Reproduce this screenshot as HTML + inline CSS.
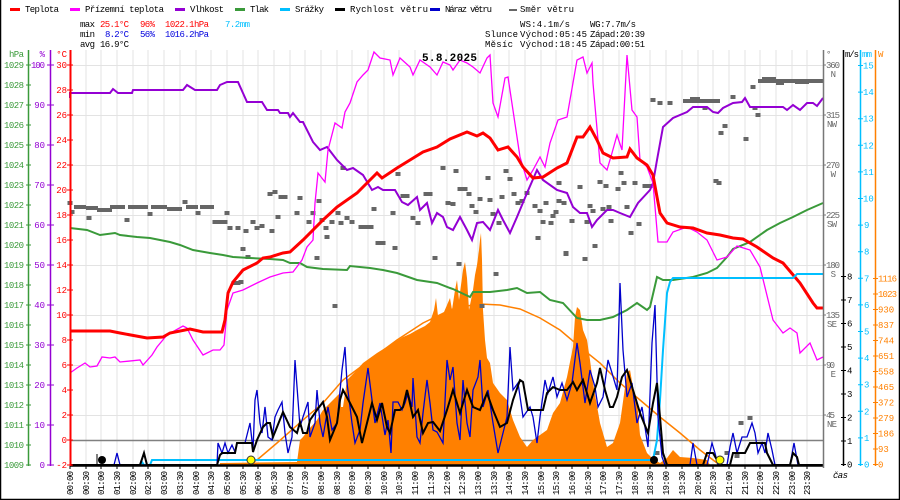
<!DOCTYPE html>
<html><head><meta charset="utf-8"><style>
html,body{margin:0;padding:0;background:#fff;}
svg{display:block;}
text{font-family:"Liberation Mono","DejaVu Sans Mono",monospace;font-size:9px;}
</style></head><body>
<svg width="900" height="500" viewBox="0 0 900 500" xmlns="http://www.w3.org/2000/svg">
<rect x="0" y="0" width="900" height="500" fill="#fff"/>
<!-- border -->
<path d="M0.5 0 V499.5 H899.5 V0" fill="none" stroke="#000" stroke-width="1.5"/>

<!-- grid -->
<path d="M86 50V465M101 50V465M117 50V465M133 50V465M148 50V465M164 50V465M180 50V465M196 50V465M211 50V465M227 50V465M243 50V465M258 50V465M274 50V465M290 50V465M305 50V465M321 50V465M337 50V465M352 50V465M368 50V465M384 50V465M399 50V465M415 50V465M431 50V465M447 50V465M462 50V465M478 50V465M494 50V465M509 50V465M525 50V465M541 50V465M556 50V465M572 50V465M588 50V465M603 50V465M619 50V465M635 50V465M650 50V465M666 50V465M682 50V465M698 50V465M713 50V465M729 50V465M745 50V465M760 50V465M776 50V465M792 50V465M807 50V465" stroke="#e3e3e3" stroke-width="1"/>
<path d="M70 65.5H823M70 115.5H823M70 165.5H823M70 215.5H823M70 265.5H823M70 315.5H823M70 365.5H823M70 415.5H823" stroke="#e3e3e3" stroke-width="1"/>
<path d="M70 440.5H823" stroke="#808080" stroke-width="1.5"/>

<!-- solar fill -->
<polygon fill="#ff8000" points="220,465 220,463 297,462 300,440 303,437 310,428 317,420 323,410 330,403 340,393 341,407 343,407 347,380 355,372 363,363 370,358 377,353 390,345 403,337 410,334 417,330 425,326 430,322 434,310 436,298 438,316 440,315 444,312 447,305 450,298 452,310 455,290 457,280 459,300 461,285 463,270 465,262 467,278 469,310 471,300 473,290 475,275 477,265 479,250 480,240 481,233 482,260 483,310 485,340 487,358 490,363 493,383 500,393 507,400 513,420 520,437 527,447 533,440 540,435 547,430 553,413 560,403 567,377 573,347 575,317 577,307 580,310 583,330 587,340 590,360 593,383 600,423 607,447 613,443 620,423 627,373 630,370 633,387 637,400 640,435 647,453 653,459 660,463 667,458 673,450 680,457 693,458 707,460 710,465"/>
<!-- theoretical solar -->
<polyline fill="none" stroke="#ff8000" stroke-width="1.5" points="250,464 257,460 277,443 303,420 323,403 343,380 370,360 397,340 423,323 450,310 460,307 480,304 500,305 520,309 540,318 560,330 580,347 600,363 620,383 640,400 660,417 680,433 700,450 717,463 720,465"/>

<!-- wind direction squares -->
<g fill="#666">
<rect x="74" y="205" width="12" height="4"/><rect x="86" y="206" width="12" height="4"/><rect x="97" y="208" width="15" height="4"/><rect x="110" y="205" width="15" height="4"/><rect x="128" y="205" width="20" height="4"/><rect x="151" y="205" width="16" height="4"/><rect x="167" y="207" width="15" height="4"/><rect x="186" y="205" width="12" height="4"/><rect x="200" y="205" width="14" height="4"/>
<rect x="758" y="79" width="66" height="4"/><rect x="762" y="77" width="14" height="3"/><rect x="776" y="82" width="8" height="3"/><rect x="795" y="81" width="14" height="3"/>
<rect x="683" y="99" width="37" height="4"/><rect x="690" y="97" width="10" height="3"/>
</g>
<g fill="#666" transform="translate(-2.5,-2)">
<rect x="70" y="203" width="5" height="4"/><rect x="72" y="212" width="5" height="4"/><rect x="89" y="218" width="5" height="4"/><rect x="127" y="220" width="5" height="4"/><rect x="150" y="214" width="5" height="4"/><rect x="185" y="202" width="5" height="4"/><rect x="198" y="213" width="5" height="4"/>
<rect x="227" y="213" width="5" height="4"/><rect x="215" y="222" width="5" height="4"/><rect x="220" y="222" width="5" height="4"/><rect x="225" y="222" width="5" height="4"/><rect x="230" y="228" width="5" height="4"/><rect x="238" y="228" width="5" height="4"/><rect x="246" y="231" width="5" height="4"/><rect x="253" y="222" width="5" height="4"/><rect x="257" y="228" width="5" height="4"/><rect x="262" y="226" width="5" height="4"/><rect x="272" y="231" width="5" height="4"/><rect x="270" y="194" width="5" height="4"/><rect x="275" y="192" width="5" height="4"/><rect x="281" y="197" width="5" height="4"/><rect x="285" y="197" width="5" height="4"/><rect x="278" y="217" width="5" height="4"/><rect x="243" y="249" width="5" height="4"/><rect x="248" y="257" width="5" height="4"/><rect x="234" y="283" width="5" height="4"/><rect x="238" y="283" width="5" height="4"/><rect x="241" y="282" width="5" height="4"/><rect x="300" y="198" width="5" height="4"/><rect x="297" y="213" width="5" height="4"/><rect x="309" y="222" width="5" height="4"/><rect x="313" y="213" width="5" height="4"/><rect x="319" y="201" width="5" height="4"/><rect x="322" y="220" width="5" height="4"/><rect x="326" y="228" width="5" height="4"/><rect x="327" y="237" width="5" height="4"/><rect x="317" y="258" width="5" height="4"/><rect x="335" y="306" width="5" height="4"/><rect x="332" y="222" width="5" height="4"/><rect x="338" y="213" width="5" height="4"/><rect x="341" y="223" width="5" height="4"/><rect x="347" y="218" width="5" height="4"/><rect x="352" y="222" width="5" height="4"/><rect x="343" y="168" width="5" height="4"/><rect x="361" y="227" width="5" height="4"/><rect x="366" y="227" width="5" height="4"/><rect x="371" y="227" width="5" height="4"/><rect x="374" y="209" width="5" height="4"/><rect x="378" y="243" width="5" height="4"/><rect x="383" y="243" width="5" height="4"/><rect x="393" y="213" width="5" height="4"/><rect x="395" y="248" width="5" height="4"/><rect x="398" y="174" width="5" height="4"/><rect x="403" y="196" width="5" height="4"/><rect x="407" y="196" width="5" height="4"/><rect x="413" y="218" width="5" height="4"/><rect x="418" y="223" width="5" height="4"/><rect x="426" y="194" width="5" height="4"/><rect x="430" y="194" width="5" height="4"/><rect x="435" y="258" width="5" height="4"/><rect x="443" y="168" width="5" height="4"/><rect x="448" y="203" width="5" height="4"/>
<rect x="456" y="171" width="5" height="4"/><rect x="460" y="189" width="5" height="4"/><rect x="465" y="189" width="5" height="4"/><rect x="469" y="194" width="5" height="4"/><rect x="453" y="204" width="5" height="4"/><rect x="480" y="199" width="5" height="4"/><rect x="476" y="212" width="5" height="4"/><rect x="472" y="206" width="5" height="4"/><rect x="488" y="178" width="5" height="4"/><rect x="490" y="200" width="5" height="4"/><rect x="493" y="214" width="5" height="4"/><rect x="499" y="223" width="5" height="4"/><rect x="502" y="197" width="5" height="4"/><rect x="506" y="171" width="5" height="4"/><rect x="510" y="179" width="5" height="4"/><rect x="514" y="194" width="5" height="4"/><rect x="518" y="203" width="5" height="4"/><rect x="522" y="201" width="5" height="4"/><rect x="527" y="193" width="5" height="4"/><rect x="535" y="206" width="5" height="4"/><rect x="538" y="238" width="5" height="4"/><rect x="540" y="211" width="5" height="4"/><rect x="543" y="222" width="5" height="4"/><rect x="546" y="203" width="5" height="4"/><rect x="551" y="223" width="5" height="4"/><rect x="553" y="216" width="5" height="4"/><rect x="556" y="212" width="5" height="4"/><rect x="559" y="183" width="5" height="4"/><rect x="559" y="201" width="5" height="4"/><rect x="564" y="203" width="5" height="4"/><rect x="566" y="253" width="5" height="4"/><rect x="572" y="221" width="5" height="4"/><rect x="580" y="187" width="5" height="4"/><rect x="587" y="222" width="5" height="4"/><rect x="590" y="206" width="5" height="4"/><rect x="593" y="211" width="5" height="4"/><rect x="595" y="246" width="5" height="4"/><rect x="600" y="182" width="5" height="4"/><rect x="603" y="209" width="5" height="4"/><rect x="606" y="186" width="5" height="4"/><rect x="609" y="207" width="5" height="4"/><rect x="611" y="221" width="5" height="4"/><rect x="618" y="189" width="5" height="4"/><rect x="621" y="173" width="5" height="4"/><rect x="624" y="183" width="5" height="4"/><rect x="627" y="207" width="5" height="4"/><rect x="631" y="233" width="5" height="4"/><rect x="635" y="183" width="5" height="4"/><rect x="639" y="224" width="5" height="4"/><rect x="645" y="186" width="5" height="4"/><rect x="650" y="186" width="5" height="4"/><rect x="653" y="100" width="5" height="4"/><rect x="660" y="103" width="5" height="4"/><rect x="670" y="103" width="5" height="4"/><rect x="705" y="108" width="5" height="4"/><rect x="716" y="181" width="5" height="4"/><rect x="719" y="183" width="5" height="4"/><rect x="721" y="133" width="5" height="4"/><rect x="725" y="126" width="5" height="4"/><rect x="733" y="97" width="5" height="4"/><rect x="746" y="139" width="5" height="4"/><rect x="753" y="87" width="5" height="4"/><rect x="755" y="108" width="5" height="4"/><rect x="758" y="115" width="5" height="4"/><rect x="459" y="264" width="5" height="4"/><rect x="496" y="274" width="5" height="4"/><rect x="482" y="306" width="5" height="4"/><rect x="566" y="254" width="5" height="4"/><rect x="585" y="259" width="5" height="4"/><rect x="657" y="453" width="5" height="4"/><rect x="727" y="453" width="5" height="4"/><rect x="741" y="423" width="5" height="4"/><rect x="750" y="418" width="5" height="4"/><rect x="737" y="456" width="5" height="4"/>
</g>

<!-- pressure -->
<polyline fill="none" stroke="#3a9a3a" stroke-width="2" points="70,228 87,230 100,235 115,233 120,235 137,237 150,238 170,242 180,245 193,250 210,253 223,255 233,257 250,258 270,259 283,260 290,263 300,263 307,267 323,269 347,270 350,266 370,268 383,270 397,273 417,280 437,283 450,288 453,289 470,297 473,292 490,292 507,290 517,288 527,293 540,292 550,300 563,303 577,318 587,320 600,320 613,317 627,310 637,303 647,310 650,307 657,277 663,280 673,280 693,277 707,273 717,268 727,257 733,249 750,242 767,230 780,223 793,217 807,210 823,203"/>
<!-- humidity -->
<polyline fill="none" stroke="#9400d3" stroke-width="2" points="70,98 70,93 110,93 113,89 118,93 132,93 133,90 183,90 187,85 195,90 217,90 220,85 227,82 238,82 247,102 262,102 267,110 278,110 280,113 288,113 290,117 293,113 300,122 303,122 313,142 320,150 327,147 337,160 347,170 353,168 363,175 372,190 378,187 383,190 395,190 402,202 408,205 417,197 420,210 427,203 432,223 437,213 443,217 447,227 453,230 460,217 467,230 472,240 477,223 483,222 490,230 498,210 503,220 510,233 517,217 527,193 537,170 543,180 557,190 567,193 573,207 580,213 587,213 592,227 597,220 607,210 613,210 620,213 630,217 638,203 650,190 653,183 657,160 663,127 673,118 687,112 693,107 707,107 713,112 718,113 723,108 733,103 742,102 745,98 750,107 783,107 787,110 793,105 800,110 807,103 813,103 817,106 823,98"/>
<!-- feels-like -->
<polyline fill="none" stroke="#ff00ff" stroke-width="1.3" points="70,373 77,368 85,363 90,367 97,366 102,357 110,358 115,357 120,362 140,360 143,365 152,355 157,347 167,335 183,326 187,328 193,340 203,355 213,350 220,350 224,345 227,310 233,293 243,290 257,283 270,277 283,273 293,272 302,260 307,247 313,240 315,203 318,173 325,182 328,150 335,123 342,128 345,112 350,103 357,82 363,75 368,70 374,52 380,58 390,60 393,75 400,58 410,67 413,75 420,60 430,67 437,75 443,62 450,65 453,70 460,60 467,63 473,67 480,73 487,58 490,55 493,103 498,117 505,78 508,77 520,157 527,180 533,170 540,157 545,167 550,143 558,120 567,117 577,60 583,57 587,73 592,63 593,83 600,163 607,170 612,153 617,135 622,150 627,55 632,110 637,117 640,160 647,167 653,183 658,242 667,242 673,232 687,227 697,232 707,240 713,252 717,260 727,257 737,246 750,250 760,267 773,320 783,333 790,328 797,333 800,353 810,343 817,360 823,357"/>
<!-- temperature -->
<polyline fill="none" stroke="#ff0000" stroke-width="3" points="70,331 110,331 120,333 147,338 163,337 170,333 190,329 203,332 222,332 225,320 228,293 233,282 243,270 257,263 263,258 270,257 283,253 290,252 303,240 323,220 337,207 357,193 370,180 377,173 382,178 397,168 410,160 423,152 437,147 450,139 467,132 477,136 483,133 490,138 498,150 508,147 517,157 523,167 533,178 543,177 557,168 567,163 577,137 583,137 590,127 597,140 603,153 613,158 627,157 630,149 637,158 647,165 653,175 657,197 660,213 667,223 680,227 693,228 707,233 720,235 733,238 743,239 757,247 773,258 783,263 800,283 813,303 817,308 823,308"/>
<!-- rain -->
<polyline fill="none" stroke="#00bfff" stroke-width="2" points="140,465 142,462 144,465 150,465 152,460 653,460 657,440 660,400 663,350 667,293 670,282 673,278 793,278 797,274 823,274"/>
<!-- gust -->
<polyline fill="none" stroke="#0000cc" stroke-width="1.3" points="70,465 114,465 117,453 120,465 217,465 218,443 222,453 225,443 228,453 232,445 235,452 237,443 245,443 250,423 253,450 255,400 257,390 260,423 262,433 265,407 268,437 272,440 275,417 278,410 282,402 285,433 288,453 292,437 295,360 298,400 300,427 303,417 308,402 310,437 315,423 317,390 320,423 323,437 328,407 332,430 337,423 342,370 345,347 347,383 352,423 355,443 360,430 363,403 368,368 372,400 375,423 380,403 385,435 388,420 391,453 393,402 398,402 402,410 405,403 408,393 412,407 413,378 417,437 420,443 423,413 427,380 430,403 433,430 437,432 443,443 447,360 450,380 453,367 457,423 460,440 463,380 467,423 470,437 473,390 478,377 480,360 483,407 488,390 493,423 498,453 502,437 507,417 510,347 513,390 518,383 523,417 530,407 533,417 537,443 540,417 545,380 548,393 553,377 557,397 562,383 567,400 572,383 577,343 580,363 585,403 590,370 595,387 598,407 603,397 608,360 612,373 617,390 620,283 623,350 627,397 632,383 637,423 642,407 645,427 648,447 652,343 655,305 658,417 662,457 665,465 690,465 693,443 697,465 707,465 712,443 715,453 718,465 727,465 730,447 733,433 737,453 742,437 747,437 752,423 755,433 758,453 762,443 765,453 768,433 772,450 775,465 790,465 794,443 798,465 823,465"/>
<!-- wind speed -->
<polyline fill="none" stroke="#000" stroke-width="2" points="70,465 140,465 144,453 147,465 217,465 220,455 222,453 235,453 237,443 252,443 253,452 257,440 263,427 267,423 270,423 273,437 277,427 283,412 290,427 297,433 300,422 303,433 307,433 310,420 317,410 323,402 327,417 330,440 337,423 340,400 343,390 350,403 357,417 362,443 367,423 372,403 377,420 382,403 387,427 390,433 395,410 400,410 403,407 407,390 413,417 418,410 423,433 428,423 433,422 440,431 447,410 453,390 460,413 467,390 473,407 480,410 487,393 493,410 500,427 507,423 513,400 520,380 523,382 528,410 537,410 543,410 547,393 553,387 560,390 567,390 573,382 577,390 583,380 590,403 597,383 600,368 605,390 610,407 613,407 617,397 622,377 627,370 633,390 640,413 648,433 653,403 657,383 660,417 663,453 667,465 703,465 707,453 713,453 717,460 720,465 730,465 733,453 745,453 750,443 765,443 767,453 773,465 790,465 793,453 797,457 799,465 823,465"/>
<path d="M70 465.5H823" stroke="#000" stroke-width="2.5"/>

<!-- markers -->
<path d="M97 454V465" stroke="#000" stroke-width="1"/>
<circle cx="102" cy="460" r="4" fill="#000"/>
<circle cx="654" cy="460" r="4" fill="#000"/>
<circle cx="251" cy="460" r="4" fill="#ffff00" stroke="#333" stroke-width="1"/>
<circle cx="720" cy="460" r="4" fill="#ffff00" stroke="#333" stroke-width="1"/>

<!-- bottom ticks -->
<path d="M70 466V469M86 466V469M101 466V469M117 466V469M133 466V469M148 466V469M164 466V469M180 466V469M196 466V469M211 466V469M227 466V469M243 466V469M258 466V469M274 466V469M290 466V469M305 466V469M321 466V469M337 466V469M352 466V469M368 466V469M384 466V469M399 466V469M415 466V469M431 466V469M447 466V469M462 466V469M478 466V469M494 466V469M509 466V469M525 466V469M541 466V469M556 466V469M572 466V469M588 466V469M603 466V469M619 466V469M635 466V469M650 466V469M666 466V469M682 466V469M698 466V469M713 466V469M729 466V469M745 466V469M760 466V469M776 466V469M792 466V469M807 466V469" stroke="#000" stroke-width="1"/>

<!-- left axes -->
<path d="M28.5 50V466" stroke="#3a9a3a" stroke-width="1.5"/>
<path d="M50.5 50V466" stroke="#9400d3" stroke-width="1.5"/>
<path d="M70.5 50V466" stroke="#ff0000" stroke-width="2"/>
<path d="M26 65H31M26 85H31M26 105H31M26 125H31M26 145H31M26 165H31M26 185H31M26 205H31M26 225H31M26 245H31M26 265H31M26 285H31M26 305H31M26 325H31M26 345H31M26 365H31M26 385H31M26 405H31M26 425H31M26 445H31M26 465H31" stroke="#3a9a3a" stroke-width="1"/>
<path d="M47 65H54M47 105H54M47 145H54M47 185H54M47 225H54M47 265H54M47 305H54M47 345H54M47 385H54M47 425H54M47 465H54" stroke="#9400d3" stroke-width="1"/>
<path d="M67 65H73M67 90H73M67 115H73M67 140H73M67 165H73M67 190H73M67 215H73M67 240H73M67 265H73M67 290H73M67 315H73M67 340H73M67 365H73M67 390H73M67 415H73M67 440H73M67 465H73" stroke="#ff0000" stroke-width="1"/>
<g fill="#3a9a3a" text-anchor="end">
<text x="24" y="57" textLength="15">hPa</text>
<text x="24" y="68" textLength="20">1029</text><text x="24" y="88" textLength="20">1028</text><text x="24" y="108" textLength="20">1027</text><text x="24" y="128" textLength="20">1026</text><text x="24" y="148" textLength="20">1025</text><text x="24" y="168" textLength="20">1024</text><text x="24" y="188" textLength="20">1023</text><text x="24" y="208" textLength="20">1022</text><text x="24" y="228" textLength="20">1021</text><text x="24" y="248" textLength="20">1020</text><text x="24" y="268" textLength="20">1019</text><text x="24" y="288" textLength="20">1018</text><text x="24" y="308" textLength="20">1017</text><text x="24" y="328" textLength="20">1016</text><text x="24" y="348" textLength="20">1015</text><text x="24" y="368" textLength="20">1014</text><text x="24" y="388" textLength="20">1013</text><text x="24" y="408" textLength="20">1012</text><text x="24" y="428" textLength="20">1011</text><text x="24" y="448" textLength="20">1010</text><text x="24" y="468" textLength="20">1009</text>
</g>
<g fill="#9400d3" text-anchor="end">
<text x="45" y="57">%</text>
<text x="45" y="68" textLength="14">100</text><text x="45" y="108">90</text><text x="45" y="148">80</text><text x="45" y="188">70</text><text x="45" y="228">60</text><text x="45" y="268">50</text><text x="45" y="308">40</text><text x="45" y="348">30</text><text x="45" y="388">20</text><text x="45" y="428">10</text><text x="45" y="468">0</text>
</g>
<g fill="#ff0000" text-anchor="end">
<text x="67" y="57">°C</text>
<text x="67" y="68">30</text><text x="67" y="93">28</text><text x="67" y="118">26</text><text x="67" y="143">24</text><text x="67" y="168">22</text><text x="67" y="193">20</text><text x="67" y="218">18</text><text x="67" y="243">16</text><text x="67" y="268">14</text><text x="67" y="293">12</text><text x="67" y="318">10</text><text x="67" y="343">8</text><text x="67" y="368">6</text><text x="67" y="393">4</text><text x="67" y="418">2</text><text x="67" y="443">0</text><text x="67" y="468">-2</text>
</g>

<!-- right axes -->
<path d="M823.5 50V468" stroke="#777" stroke-width="1.5"/>
<path d="M843.5 50V466" stroke="#000" stroke-width="1.5"/>
<path d="M860.5 50V466" stroke="#00bfff" stroke-width="1.5"/>
<path d="M875.5 50V466" stroke="#ff8000" stroke-width="1.5"/>
<path d="M823 65H826M823 115H826M823 165H826M823 215H826M823 265H826M823 315H826M823 365H826M823 415H826" stroke="#777" stroke-width="1"/>
<path d="M841 464.5H846M841 441H846M841 417.5H846M841 394H846M841 370.5H846M841 347H846M841 323.5H846M841 300H846M841 276.5H846" stroke="#000" stroke-width="1"/>
<path d="M858 464.5H863M858 437.9H863M858 411.3H863M858 384.7H863M858 358.1H863M858 331.5H863M858 304.9H863M858 278.3H863M858 251.7H863M858 225.1H863M858 198.5H863M858 171.9H863M858 145.3H863M858 118.7H863M858 92.1H863M858 65.5H863" stroke="#00bfff" stroke-width="1"/>
<path d="M873 464.5H878M873 449H878M873 433.5H878M873 418H878M873 402.5H878M873 387H878M873 371.5H878M873 356H878M873 340.5H878M873 325H878M873 309.5H878M873 294H878M873 278.5H878" stroke="#ff8000" stroke-width="1"/>
<g fill="#666">
<text x="826" y="57">°</text>
<text x="826" y="68" textLength="14">360</text><text x="836" y="77" text-anchor="end">N</text>
<text x="826" y="118" textLength="14">315</text><text x="837" y="127" text-anchor="end" textLength="10">NW</text>
<text x="826" y="168" textLength="14">270</text><text x="836" y="177" text-anchor="end">W</text>
<text x="826" y="218" textLength="14">225</text><text x="837" y="227" text-anchor="end" textLength="10">SW</text>
<text x="826" y="268" textLength="14">180</text><text x="836" y="277" text-anchor="end">S</text>
<text x="826" y="318" textLength="14">135</text><text x="837" y="327" text-anchor="end" textLength="10">SE</text>
<text x="826" y="368" textLength="9">90</text><text x="836" y="377" text-anchor="end">E</text>
<text x="826" y="418" textLength="9">45</text><text x="837" y="427" text-anchor="end" textLength="10">NE</text>
</g>
<g fill="#000">
<text x="845" y="57" textLength="14">m/s</text>
<text x="847" y="467.5">0</text><text x="847" y="444">1</text><text x="847" y="420.5">2</text><text x="847" y="397">3</text><text x="847" y="373.5">4</text><text x="847" y="350">5</text><text x="847" y="326.5">6</text><text x="847" y="303">7</text><text x="847" y="279.5">8</text>
</g>
<g fill="#00bfff">
<text x="862" y="57" textLength="10">mm</text>
<text x="864" y="467.5">0</text><text x="864" y="441">1</text><text x="864" y="414.3">2</text><text x="864" y="387.7">3</text><text x="864" y="361.1">4</text><text x="864" y="334.5">5</text><text x="864" y="307.9">6</text><text x="864" y="281.3">7</text><text x="864" y="254.7">8</text><text x="864" y="228.1">9</text><text x="863" y="201.5">10</text><text x="863" y="174.9">11</text><text x="863" y="148.3">12</text><text x="863" y="121.7">13</text><text x="863" y="95.1">14</text><text x="863" y="68.5">15</text>
</g>
<g fill="#ff8000">
<text x="878" y="57">W</text>
<text x="878" y="467.5">0</text><text x="878" y="452">93</text><text x="878" y="436.5">186</text><text x="878" y="421">279</text><text x="878" y="405.5">372</text><text x="878" y="390">465</text><text x="878" y="374.5">558</text><text x="878" y="359">651</text><text x="878" y="343.5">744</text><text x="878" y="328">837</text><text x="878" y="312.5">930</text><text x="878" y="297" textLength="19">1023</text><text x="878" y="281.5" textLength="19">1116</text>
</g>
<text x="833" y="478" font-style="italic" textLength="15">čas</text>

<!-- time labels -->
<g fill="#000" text-anchor="end" font-size="8" style="font-size:8px">
<text transform="translate(73,471) rotate(-90)" textLength="24">00:00</text>
<text transform="translate(89,471) rotate(-90)" textLength="24">00:30</text>
<text transform="translate(104,471) rotate(-90)" textLength="24">01:00</text>
<text transform="translate(120,471) rotate(-90)" textLength="24">01:30</text>
<text transform="translate(136,471) rotate(-90)" textLength="24">02:00</text>
<text transform="translate(151,471) rotate(-90)" textLength="24">02:30</text>
<text transform="translate(167,471) rotate(-90)" textLength="24">03:00</text>
<text transform="translate(183,471) rotate(-90)" textLength="24">03:30</text>
<text transform="translate(199,471) rotate(-90)" textLength="24">04:00</text>
<text transform="translate(214,471) rotate(-90)" textLength="24">04:30</text>
<text transform="translate(230,471) rotate(-90)" textLength="24">05:00</text>
<text transform="translate(246,471) rotate(-90)" textLength="24">05:30</text>
<text transform="translate(261,471) rotate(-90)" textLength="24">06:00</text>
<text transform="translate(277,471) rotate(-90)" textLength="24">06:30</text>
<text transform="translate(293,471) rotate(-90)" textLength="24">07:00</text>
<text transform="translate(308,471) rotate(-90)" textLength="24">07:30</text>
<text transform="translate(324,471) rotate(-90)" textLength="24">08:00</text>
<text transform="translate(340,471) rotate(-90)" textLength="24">08:30</text>
<text transform="translate(355,471) rotate(-90)" textLength="24">09:00</text>
<text transform="translate(371,471) rotate(-90)" textLength="24">09:30</text>
<text transform="translate(387,471) rotate(-90)" textLength="24">10:00</text>
<text transform="translate(402,471) rotate(-90)" textLength="24">10:30</text>
<text transform="translate(418,471) rotate(-90)" textLength="24">11:00</text>
<text transform="translate(434,471) rotate(-90)" textLength="24">11:30</text>
<text transform="translate(450,471) rotate(-90)" textLength="24">12:00</text>
<text transform="translate(465,471) rotate(-90)" textLength="24">12:30</text>
<text transform="translate(481,471) rotate(-90)" textLength="24">13:00</text>
<text transform="translate(497,471) rotate(-90)" textLength="24">13:30</text>
<text transform="translate(512,471) rotate(-90)" textLength="24">14:00</text>
<text transform="translate(528,471) rotate(-90)" textLength="24">14:30</text>
<text transform="translate(544,471) rotate(-90)" textLength="24">15:00</text>
<text transform="translate(559,471) rotate(-90)" textLength="24">15:30</text>
<text transform="translate(575,471) rotate(-90)" textLength="24">16:00</text>
<text transform="translate(591,471) rotate(-90)" textLength="24">16:30</text>
<text transform="translate(606,471) rotate(-90)" textLength="24">17:00</text>
<text transform="translate(622,471) rotate(-90)" textLength="24">17:30</text>
<text transform="translate(638,471) rotate(-90)" textLength="24">18:00</text>
<text transform="translate(653,471) rotate(-90)" textLength="24">18:30</text>
<text transform="translate(669,471) rotate(-90)" textLength="24">19:00</text>
<text transform="translate(685,471) rotate(-90)" textLength="24">19:30</text>
<text transform="translate(701,471) rotate(-90)" textLength="24">20:00</text>
<text transform="translate(716,471) rotate(-90)" textLength="24">20:30</text>
<text transform="translate(732,471) rotate(-90)" textLength="24">21:00</text>
<text transform="translate(748,471) rotate(-90)" textLength="24">21:30</text>
<text transform="translate(763,471) rotate(-90)" textLength="24">22:00</text>
<text transform="translate(779,471) rotate(-90)" textLength="24">22:30</text>
<text transform="translate(795,471) rotate(-90)" textLength="24">23:00</text>
<text transform="translate(810,471) rotate(-90)" textLength="24">23:30</text>
</g>

<!-- title -->
<text x="422" y="61" font-weight="bold" style="font-size:11px;font-weight:bold" textLength="55">5.8.2025</text>

<!-- legend -->
<rect x="10" y="8" width="10" height="3" fill="#ff0000"/><text x="25" y="12" textLength="34">Teplota</text>
<rect x="70" y="8" width="10" height="3" fill="#ff00ff"/><text x="85" y="12" textLength="79">Přízemní teplota</text>
<rect x="175" y="8" width="10" height="3" fill="#9400d3"/><text x="190" y="12" textLength="34">Vlhkost</text>
<rect x="235" y="8" width="10" height="3" fill="#3a9a3a"/><text x="250" y="12" textLength="19">Tlak</text>
<rect x="280" y="8" width="10" height="3" fill="#00bfff"/><text x="295" y="12" textLength="29">Srážky</text>
<rect x="335" y="8" width="10" height="3" fill="#000"/><text x="350" y="12" textLength="78">Rychlost větru</text>
<rect x="430" y="8" width="10" height="3" fill="#0000cc"/><text x="445" y="12" textLength="47">Náraz větru</text>
<rect x="509" y="9" width="8" height="2" fill="#666"/><text x="520" y="12" textLength="54">Směr větru</text>

<!-- stats -->
<text x="80" y="27" textLength="15">max</text>
<text x="100" y="27" fill="#ff0000" textLength="29">25.1°C</text>
<text x="140" y="27" fill="#ff0000" textLength="15">96%</text>
<text x="165" y="27" fill="#ff0000" textLength="44">1022.1hPa</text>
<text x="225" y="27" fill="#00bfff" textLength="25">7.2mm</text>
<text x="80" y="37" textLength="15">min</text>
<text x="105" y="37" fill="#0000dd" textLength="24">8.2°C</text>
<text x="140" y="37" fill="#0000dd" textLength="15">56%</text>
<text x="165" y="37" fill="#0000dd" textLength="44">1016.2hPa</text>
<text x="80" y="47" textLength="15">avg</text>
<text x="100" y="47" textLength="29">16.9°C</text>

<text x="520" y="27" textLength="50">WS:4.1m/s</text>
<text x="590" y="27" textLength="46">WG:7.7m/s</text>
<text x="485" y="37" textLength="33">Slunce</text>
<text x="520" y="37" textLength="67">Východ:05:45</text>
<text x="590" y="37" textLength="55">Západ:20:39</text>
<text x="485" y="47" textLength="28">Měsíc</text>
<text x="520" y="47" textLength="67">Východ:18:45</text>
<text x="590" y="47" textLength="55">Západ:00:51</text>
</svg>
</body></html>
